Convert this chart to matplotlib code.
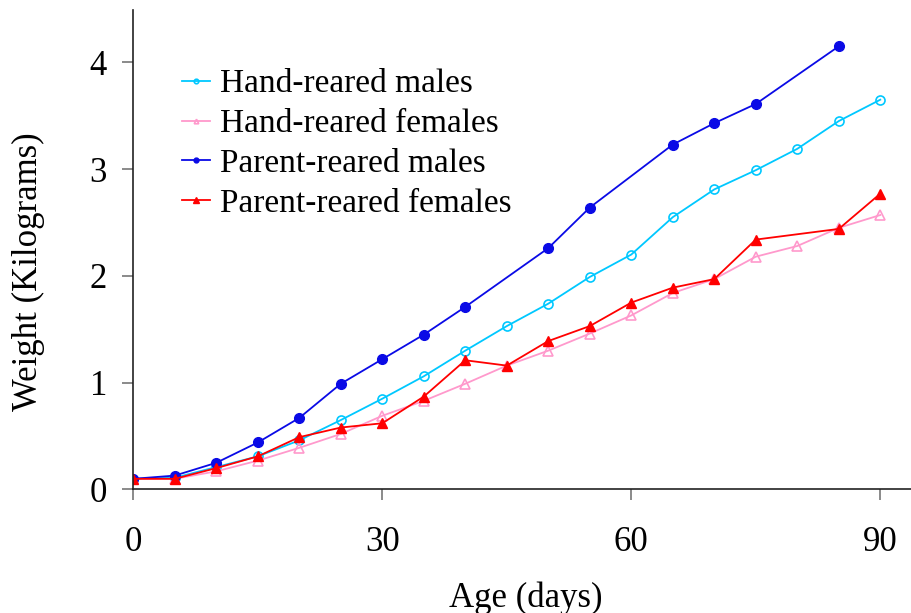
import numpy as np
import matplotlib
matplotlib.use('Agg')
import matplotlib.pyplot as plt

# Weight vs age
hand_days = [0, 5, 10, 15, 20, 25, 30, 35, 40, 45, 50, 55, 60, 65, 70, 75, 80, 85, 90]
hand_males = [0.10, 0.11, 0.21, 0.31, 0.46, 0.65, 0.85, 1.06, 1.30, 1.53, 1.74, 1.99,
              2.20, 2.55, 2.81, 2.99, 3.19, 3.45, 3.65]
hand_females = [0.10, 0.10, 0.17, 0.27, 0.39, 0.52, 0.69, 0.83, 0.99, 1.16, 1.30, 1.46,
                1.63, 1.84, 1.97, 2.18, 2.28, 2.45, 2.57]

pm_days = [0, 5, 10, 15, 20, 25, 30, 35, 40, 50, 55, 65, 70, 75, 85]
parent_males = [0.10, 0.13, 0.25, 0.44, 0.67, 0.99, 1.22, 1.45, 1.71, 2.26, 2.64,
                3.23, 3.43, 3.61, 4.15]

pf_days = [0, 5, 10, 15, 20, 25, 30, 35, 40, 45, 50, 55, 60, 65, 70, 75, 85, 90]
parent_females = [0.10, 0.10, 0.20, 0.31, 0.49, 0.58, 0.62, 0.87, 1.21, 1.16, 1.39, 1.53,
                  1.75, 1.89, 1.97, 2.34, 2.44, 2.77]

x_ticks = [0, 30, 60, 90]
y_ticks = [0, 1, 2, 3, 4]

plt.rcParams['font.family'] = ['Liberation Serif', 'DejaVu Serif']

fig = plt.figure(figsize=(9.11, 6.13), dpi=100)
ax = fig.add_axes([0.1463, 0.2015, 0.8537, 0.7822])

ax.plot(hand_days, hand_males, color='#00c8ff', lw=1.3, marker='o', ms=6.5,
        mfc='none', mew=1.2, label='Hand-reared males')
ax.plot(hand_days, hand_females, color='#ff99cc', lw=1.3, marker='^', ms=6.5,
        mfc='none', mew=1.2, label='Hand-reared females')
ax.plot(pm_days, parent_males, color='#0a0ae6', lw=1.3, marker='o', ms=7,
        label='Parent-reared males')
ax.plot(pf_days, parent_females, color='#ff0000', lw=1.3, marker='^', ms=7.5,
        label='Parent-reared females')

ax.set_xlim(0, 93.7)
ax.set_ylim(0, 4.49)
ax.set_xticks(x_ticks)
ax.set_yticks(y_ticks)
ax.spines['top'].set_visible(False)
ax.spines['right'].set_visible(False)
for s in ['left', 'bottom']:
    ax.spines[s].set_linewidth(1.2)
    ax.spines[s].set_color('#222222')
ax.tick_params(axis='x', length=8, width=1.2, color='#777777', labelsize=25, pad=18)
ax.tick_params(axis='y', length=8, width=1.2, color='#777777', labelsize=25, pad=11)

fig.text(526 / 911, 1 - 598 / 613, 'Age (days)', fontsize=25, ha='center', va='center')
fig.text(28 / 911, 1 - 272 / 613, 'Weight (Kilograms)', fontsize=25, ha='center',
         va='center', rotation=90)

leg = ax.legend(loc='upper left', bbox_to_anchor=(0.0626, 0.877), frameon=False,
                fontsize=24, markerscale=0.5, handlelength=0.85, handletextpad=0.3,
                labelspacing=0.28, borderpad=0, borderaxespad=0)

fig.savefig('out.png', dpi=100)
